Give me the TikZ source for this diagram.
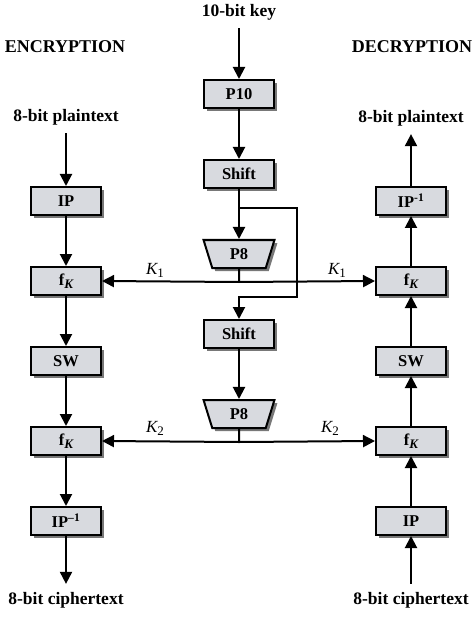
\documentclass[tikz,border=0pt]{standalone}
\usepackage{fontspec}
\setmainfont{Liberation Serif}
\usetikzlibrary{arrows.meta,shapes.geometric}
\definecolor{boxfill}{RGB}{216,218,223}
\definecolor{shadowgray}{RGB}{120,120,120}
\begin{document}
\begin{tikzpicture}[x=1pt,y=-1pt,
  every node/.style={font=\fontsize{16.5}{18}\selectfont\bfseries},
  shadowed/.style={preaction={fill=shadowgray,transform canvas={xshift=3pt,yshift=-3pt}}},
  blk/.style={draw=black,line width=2pt,fill=boxfill,shadowed,minimum width=70pt,minimum height=28pt,inner sep=0pt},
  trap/.style={draw=black,line width=2pt,fill=boxfill,shadowed,trapezium,shape border rotate=180,
    trapezium stretches=true,trapezium left angle=75,trapezium right angle=75,
    minimum width=71pt,minimum height=28pt,inner sep=0pt},
  lbl/.style={inner xsep=0pt,inner ysep=8pt,font=\fontsize{17.5}{19}\selectfont\bfseries},
  head/.style={font=\fontsize{18}{20}\selectfont\bfseries},
  klbl/.style={font=\fontsize{17}{18}\selectfont\mdseries},
  arr/.style={line width=2pt,-{Triangle[length=12pt,width=12pt]}},
  ln/.style={line width=2pt}]
\useasboundingbox (0,0) rectangle (474,617);
% center column
\node[lbl] (key) at (239,12) {10-bit key};
\node[blk] (p10) at (239,94) {P10};
\node[blk] (sh1) at (239,174) {Shift};
\node[trap] (p8a) at (239,254) {P8};
\node[blk] (sh2) at (239,334) {Shift};
\node[trap] (p8b) at (239,414) {P8};
% encryption column
\node[head] (enc) at (65,47) {ENCRYPTION};
\node[lbl] (ptL) at (66,117) {8-bit plaintext};
\node[blk] (ipL) at (66,201) {IP};
\node[blk] (fk1L) at (66,281) {f\raisebox{-0.35ex}{\fontsize{13}{14}\selectfont\itshape K}};
\node[blk] (swL) at (66,361) {SW};
\node[blk] (fk2L) at (66,441) {f\raisebox{-0.35ex}{\fontsize{13}{14}\selectfont\itshape K}};
\node[blk] (ipiL) at (66,521) {IP\textsuperscript{--1}};
\node[lbl] (ctL) at (66,600) {8-bit ciphertext};
% decryption column
\node[head] (dec) at (412,47) {DECRYPTION};
\node[lbl] (ptR) at (411,118) {8-bit plaintext};
\node[blk] (ipiR) at (411,201) {IP\textsuperscript{-1}};
\node[blk] (fk1R) at (411,281) {f\raisebox{-0.35ex}{\fontsize{13}{14}\selectfont\itshape K}};
\node[blk] (swR) at (411,361) {SW};
\node[blk] (fk2R) at (411,441) {f\raisebox{-0.35ex}{\fontsize{13}{14}\selectfont\itshape K}};
\node[blk] (ipR) at (411,521) {IP};
\node[lbl] (ctR) at (411,600) {8-bit ciphertext};
% key schedule
\draw[arr] (key) -- (p10);
\draw[arr] (p10) -- (sh1);
\draw[arr] (sh1) -- (p8a);
\coordinate (b1) at (239,208);
\coordinate (b2) at (297,208);
\coordinate (b3) at (297,297);
\coordinate (b4) at (239,297);
\draw[arr,line join=miter] (b1) -- (b2) -- (b3) -- (b4) -- (sh2.north);
\coordinate (k1) at (239,282);
\draw[ln] (p8a.south) -- (k1);
\draw[arr] (k1) -- (fk1L.east);
\draw[arr] (k1) -- (fk1R.west);
\draw[arr] (sh2) -- (p8b);
\coordinate (k2) at (239,442);
\draw[ln] (p8b.south) -- (k2);
\draw[arr] (k2) -- (fk2L.east);
\draw[arr] (k2) -- (fk2R.west);
\node[klbl] (k1l) at (155,270) {\itshape K\raisebox{-0.4ex}{\upshape\fontsize{13}{14}\selectfont 1}};
\node[klbl] (k1r) at (337,270) {\itshape K\raisebox{-0.4ex}{\upshape\fontsize{13}{14}\selectfont 1}};
\node[klbl] (k2l) at (155,428) {\itshape K\raisebox{-0.4ex}{\upshape\fontsize{13}{14}\selectfont 2}};
\node[klbl] (k2r) at (330,428) {\itshape K\raisebox{-0.4ex}{\upshape\fontsize{13}{14}\selectfont 2}};
% encryption chain
\draw[arr] (ptL) -- (ipL);
\draw[arr] (ipL) -- (fk1L);
\draw[arr] (fk1L) -- (swL);
\draw[arr] (swL) -- (fk2L);
\draw[arr] (fk2L) -- (ipiL);
\draw[arr] (ipiL) -- (ctL);
% decryption chain
\draw[arr] (ctR) -- (ipR);
\draw[arr] (ipR) -- (fk2R);
\draw[arr] (fk2R) -- (swR);
\draw[arr] (swR) -- (fk1R);
\draw[arr] (fk1R) -- (ipiR);
\draw[arr] (ipiR) -- (ptR);
\end{tikzpicture}
\end{document}
